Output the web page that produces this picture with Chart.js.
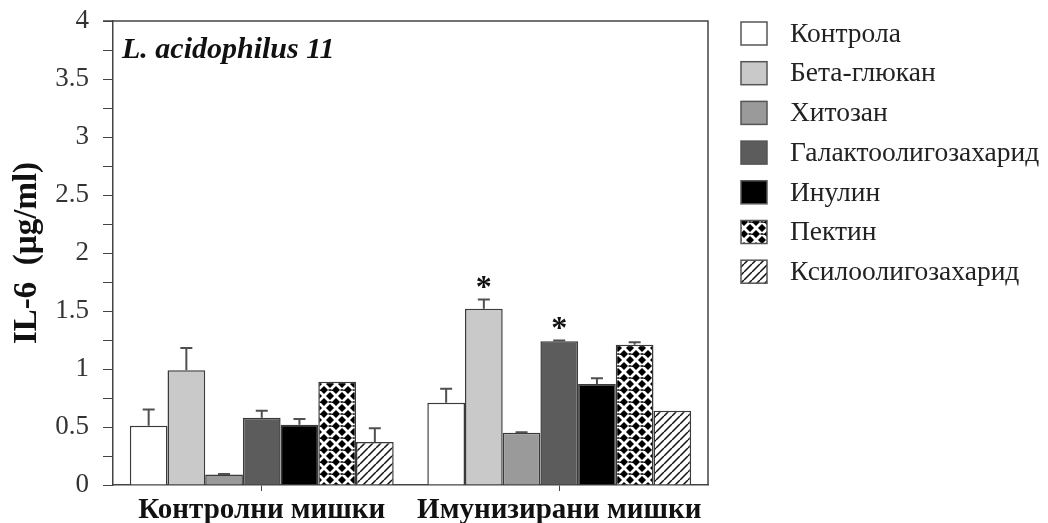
<!DOCTYPE html>
<html>
<head>
<meta charset="utf-8">
<script src="https://cdn.jsdelivr.net/npm/chart.js@4.4.1/dist/chart.umd.min.js"></script>
<style>
  html, body { margin: 0; padding: 0; background: #ffffff; }
  #wrap { width: 1048px; height: 523px; position: relative; }
</style>
</head>
<body>
<div id="wrap"><canvas id="chart" width="1048" height="523"></canvas></div>
<script>
// Groups of mice
const categories = ['Контролни мишки', 'Имунизирани мишки'];

// Treatment series (IL-6, µg/ml) and their upper error values
const seriesNames = ['Контрола', 'Бета-глюкан', 'Хитозан', 'Галактоолигозахарид', 'Инулин', 'Пектин', 'Ксилоолигозахарид'];
const kontrola   = [0.51, 0.71];
const betaGlukan = [0.99, 1.52];
const hitozan    = [0.09, 0.45];
const galakto    = [0.58, 1.24];
const inulin     = [0.52, 0.87];
const pektin     = [0.89, 1.21];
const ksilo      = [0.37, 0.64];

const errKontrola = [0.14, 0.12];
const errBeta     = [0.19, 0.08];
const errHitozan  = [0.005, 0.005];
const errGalakto  = [0.06, 0.005];
const errInulin   = [0.05, 0.05];
const errPektin   = [0, 0.02];
const errKsilo    = [0.12, 0];

// Significance markers (*)
const sigBeta    = [false, true];
const sigGalakto = [false, true];
const sigNone    = [false, false];

// Y axis ticks
const yMin = 0, yMax = 4, yStep = 0.25;
const yAxisTitle = 'IL-6  (µg/ml)';
const panelTitle = 'L. acidophilus 11';

const serif = '"Liberation Serif", "DejaVu Serif", serif';

// Fill patterns
function weavePattern() {
  const c = document.createElement('canvas');
  c.width = 12; c.height = 12;
  const g = c.getContext('2d');
  g.fillStyle = '#000';
  g.fillRect(0, 0, 12, 12);
  g.strokeStyle = '#fff';
  g.lineWidth = 2.8;
  g.beginPath();
  for (let k = -12; k <= 24; k += 12) {
    g.moveTo(k, 0); g.lineTo(k + 12, 12);
    g.moveTo(k + 12, 0); g.lineTo(k, 12);
  }
  g.stroke();
  g.strokeStyle = '#000';
  g.lineWidth = 1.4;
  g.beginPath();
  g.moveTo(4.5, 6); g.lineTo(7.5, 6);
  g.moveTo(6, 10.5); g.lineTo(6, 13.5);
  g.moveTo(6, -1.5); g.lineTo(6, 1.5);
  g.stroke();
  return g.createPattern(c, 'repeat');
}
function hatchPattern() {
  const c = document.createElement('canvas');
  c.width = 8; c.height = 8;
  const g = c.getContext('2d');
  g.fillStyle = '#fff';
  g.fillRect(0, 0, 8, 8);
  g.strokeStyle = '#111';
  g.lineWidth = 1.5;
  g.beginPath();
  for (let k = -8; k <= 16; k += 8) {
    g.moveTo(k, 8); g.lineTo(k + 8, 0);
  }
  g.stroke();
  return g.createPattern(c, 'repeat');
}

const fills = ['#ffffff', '#c9c9c9', '#9a9a9a', '#5c5c5c', '#000000', weavePattern(), hatchPattern()];
const seriesData = [kontrola, betaGlukan, hitozan, galakto, inulin, pektin, ksilo];
const seriesErr = [errKontrola, errBeta, errHitozan, errGalakto, errInulin, errPektin, errKsilo];
const seriesSig = [sigNone, sigBeta, sigNone, sigGalakto, sigNone, sigNone, sigNone];

const datasets = seriesNames.map((name, i) => ({
  label: name,
  data: seriesData[i],
  errors: seriesErr[i],
  marks: seriesSig[i],
  backgroundColor: fills[i],
  borderColor: '#3a3a3a',
  borderWidth: 1.5,
  borderSkipped: 'bottom',
  barPercentage: 1.0,
  categoryPercentage: 0.887
}));

// Error bars, significance stars, frame and panel title
const decorations = {
  id: 'decorations',
  afterDatasetsDraw(chart) {
    const ctx = chart.ctx;
    const y = chart.scales.y;
    ctx.save();
    chart.data.datasets.forEach((ds, di) => {
      const meta = chart.getDatasetMeta(di);
      meta.data.forEach((bar, j) => {
        const v = ds.data[j];
        const e = ds.errors[j] || 0;
        const yTop = y.getPixelForValue(v + e);
        if (e > 0) {
          ctx.strokeStyle = '#505050';
          ctx.lineWidth = 2;
          ctx.beginPath();
          ctx.moveTo(bar.x, bar.y);
          ctx.lineTo(bar.x, yTop);
          ctx.moveTo(bar.x - 6, yTop);
          ctx.lineTo(bar.x + 6, yTop);
          ctx.stroke();
        }
        if (ds.marks[j]) {
          ctx.fillStyle = '#111';
          ctx.font = 'bold 32px ' + serif;
          ctx.textAlign = 'center';
          ctx.textBaseline = 'middle';
          ctx.fillText('*', bar.x, yTop - 11);
        }
      });
    });
    const a = chart.chartArea;
    ctx.strokeStyle = '#444';
    ctx.lineWidth = 1.5;
    ctx.beginPath();
    ctx.moveTo(a.left - 10, a.top);
    ctx.lineTo(a.right, a.top);
    ctx.lineTo(a.right, a.bottom);
    ctx.stroke();
    ctx.fillStyle = '#111';
    ctx.font = 'italic bold 30px ' + serif;
    ctx.textAlign = 'left';
    ctx.textBaseline = 'middle';
    ctx.fillText(panelTitle, a.left + 9, a.top + 29);
    ctx.restore();
  }
};

// Legend to the right of the plot
const sideLegend = {
  id: 'sideLegend',
  afterDraw(chart) {
    const ctx = chart.ctx;
    const x0 = 741, y0 = 33.5, gap = 39.7, bw = 26, bh = 23;
    ctx.save();
    chart.data.datasets.forEach((ds, i) => {
      const cy = y0 + i * gap;
      ctx.fillStyle = ds.backgroundColor;
      ctx.fillRect(x0, cy - bh / 2, bw, bh);
      ctx.strokeStyle = '#555';
      ctx.lineWidth = 1.5;
      ctx.strokeRect(x0, cy - bh / 2, bw, bh);
      ctx.fillStyle = '#222';
      ctx.font = '27.5px ' + serif;
      ctx.textAlign = 'left';
      ctx.textBaseline = 'middle';
      ctx.fillText(ds.label, 790, cy + 1);
    });
    ctx.restore();
  }
};

new Chart(document.getElementById('chart'), {
  type: 'bar',
  data: { labels: categories, datasets },
  plugins: [decorations, sideLegend],
  options: {
    responsive: false,
    animation: false,
    layout: { padding: { left: 0, right: 340, top: 21, bottom: 0 } },
    plugins: {
      legend: { display: false },
      tooltip: { enabled: false }
    },
    scales: {
      x: {
        afterFit(s) { s.height = 38; s.paddingLeft = 0; s.paddingRight = 0; },
        grid: {
          display: true,
          drawOnChartArea: false,
          drawTicks: true,
          tickLength: 6,
          offset: false,
          color: '#444'
        },
        border: { display: true, color: '#444', width: 1.5 },
        ticks: {
          color: '#111',
          padding: 2,
          font: { family: serif, size: 29, weight: 'bold' }
        }
      },
      y: {
        min: yMin,
        max: yMax,
        afterFit(s) { s.width = 113; s.paddingTop = 0; s.paddingBottom = 0; },
        grid: {
          drawOnChartArea: false,
          drawTicks: true,
          tickLength: 10,
          color: '#444'
        },
        border: { display: true, color: '#444', width: 1.5 },
        ticks: {
          stepSize: yStep,
          autoSkip: false,
          padding: 14,
          color: '#333',
          font: { family: serif, size: 27 },
          callback(v) {
            return Math.abs(v * 2 - Math.round(v * 2)) < 1e-9 ? String(v) : '';
          }
        },
        title: {
          display: true,
          text: yAxisTitle,
          color: '#111',
          padding: { top: 8, bottom: 0 },
          font: { family: serif, size: 33, weight: 'bold' }
        }
      }
    }
  }
});
</script>
</body>
</html>
